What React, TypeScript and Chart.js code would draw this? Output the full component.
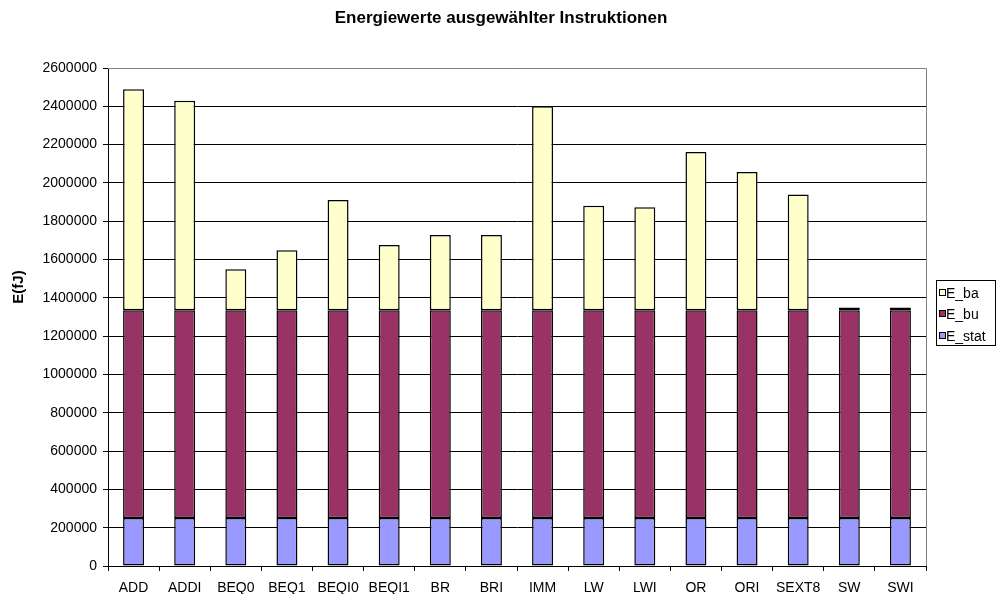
import React, { useEffect, useRef } from 'react';
import { Chart, registerables } from 'chart.js';

Chart.register(...registerables);

const categories = ['ADD', 'ADDI', 'BEQ0', 'BEQ1', 'BEQI0', 'BEQI1', 'BR', 'BRI', 'IMM', 'LW', 'LWI', 'OR', 'ORI', 'SEXT8', 'SW', 'SWI'];
const eStat = [250000, 250000, 250000, 250000, 250000, 250000, 250000, 250000, 250000, 250000, 250000, 250000, 250000, 250000, 250000, 250000];
const eBu = [1085000, 1085000, 1085000, 1085000, 1085000, 1085000, 1085000, 1085000, 1085000, 1085000, 1085000, 1085000, 1085000, 1085000, 1085000, 1085000];
const eBa = [1154000, 1094000, 214000, 313000, 576000, 341000, 393000, 393000, 1065000, 546000, 538000, 826000, 722000, 604000, 15000, 15000];
const seriesNames = ['E_stat', 'E_bu', 'E_ba'];
const seriesColors = ['#9999FF', '#993366', '#FFFFCC'];
const yMax = 2600000;
const yStep = 200000;
const titleText = 'Energiewerte ausgewählter Instruktionen';
const yTitleText = 'E(fJ)';

const FONT = 'Arial, "Liberation Sans", sans-serif';

const decorPlugin = {
  id: 'decor',
  afterDraw(chart: any) {
    const ctx = chart.ctx;
    const area = chart.chartArea;
    ctx.save();
    ctx.strokeStyle = '#808080';
    ctx.lineWidth = 1;
    ctx.beginPath();
    ctx.moveTo(area.left, Math.round(area.top) + 0.5);
    ctx.lineTo(Math.round(area.right) + 0.5, Math.round(area.top) + 0.5);
    ctx.lineTo(Math.round(area.right) + 0.5, area.bottom);
    ctx.stroke();

    ctx.fillStyle = '#000';
    ctx.font = `bold 17px ${FONT}`;
    ctx.textAlign = 'center';
    ctx.textBaseline = 'alphabetic';
    ctx.fillText(titleText, 501, 23);

    ctx.save();
    ctx.translate(18.5, 287);
    ctx.rotate(-Math.PI / 2);
    ctx.font = `bold 15px ${FONT}`;
    ctx.textAlign = 'center';
    ctx.textBaseline = 'middle';
    ctx.fillText(yTitleText, 0, 0);
    ctx.restore();

    const lx = 936.5, ly = 280.5, lw = 59, lh = 65;
    ctx.fillStyle = '#fff';
    ctx.fillRect(lx, ly, lw, lh);
    ctx.strokeStyle = '#000';
    ctx.strokeRect(lx, ly, lw, lh);
    const rows = [2, 1, 0];
    const rowY = [292.7, 314.3, 335.7];
    ctx.font = `14px ${FONT}`;
    ctx.textAlign = 'left';
    ctx.textBaseline = 'middle';
    rows.forEach((si, i) => {
      const y = Math.round(rowY[i]);
      ctx.fillStyle = seriesColors[si];
      ctx.fillRect(939.5, y - 3.5, 6, 6);
      ctx.strokeStyle = '#000';
      ctx.strokeRect(939.5, y - 3.5, 6, 6);
      ctx.fillStyle = '#000';
      ctx.fillText(seriesNames[si], 946, y + 1);
    });
    ctx.restore();
  },
};

export default function App() {
  const ref = useRef<HTMLCanvasElement | null>(null);
  useEffect(() => {
    if (!ref.current) return;
    const values = [eStat, eBu, eBa];
    const chart = new Chart(ref.current, {
      type: 'bar',
      data: {
        labels: categories,
        datasets: seriesNames.map((name, i) => ({
          label: name,
          data: values[i],
          backgroundColor: seriesColors[i],
          borderColor: '#000',
          borderWidth: 1.5,
          borderSkipped: false,
          barPercentage: 0.41,
          categoryPercentage: 1,
        })),
      },
      options: {
        animation: false,
        responsive: false,
        maintainAspectRatio: false,
        layout: { padding: { top: 68, right: 71, bottom: 0, left: 0 } },
        plugins: {
          legend: { display: false },
          title: { display: false },
          tooltip: { enabled: false },
        },
        scales: {
          x: {
            stacked: true,
            afterFit: (s: any) => { s.height = 28; },
            grid: {
              offset: true,
              drawOnChartArea: false,
              drawTicks: true,
              tickLength: 5,
              tickColor: '#000',
            },
            border: { display: true, color: '#000', width: 1 },
            ticks: {
              color: '#000',
              font: { family: FONT, size: 14 },
              padding: 9,
              maxRotation: 0,
              autoSkip: false,
            },
          },
          y: {
            stacked: true,
            min: 0,
            max: yMax,
            afterFit: (s: any) => { s.width = 108; },
            grid: {
              color: (c: any) => (c.tick && c.tick.value === yMax ? '#808080' : '#000'),
              tickColor: '#000',
              tickLength: 5,
              drawTicks: true,
            },
            border: { display: true, color: '#000', width: 1 },
            ticks: {
              stepSize: yStep,
              color: '#000',
              font: { family: FONT, size: 14 },
              padding: 6,
              callback: (v: any) => String(v),
            },
          },
        },
      },
      plugins: [decorPlugin],
    });
    return () => chart.destroy();
  }, []);
  return (
    <div style={{ position: 'fixed', left: 0, top: 0, width: 997, height: 594, background: '#fff' }}>
      <canvas ref={ref} width={997} height={594} style={{ display: 'block', width: 997, height: 594 }} />
    </div>
  );
}
